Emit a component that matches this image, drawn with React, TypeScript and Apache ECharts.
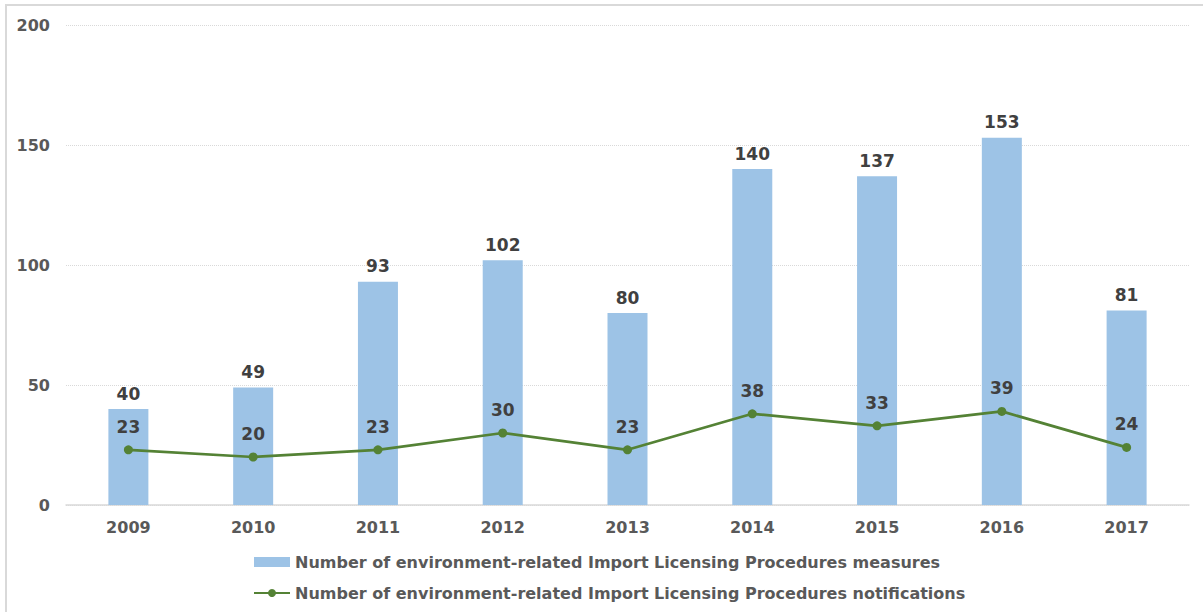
import React, { useEffect, useRef } from "react";
import * as echarts from "echarts";

const categories = ["2009", "2010", "2011", "2012", "2013", "2014", "2015", "2016", "2017"];
const measures = [40, 49, 93, 102, 80, 140, 137, 153, 81];
const notifications = [23, 20, 23, 30, 23, 38, 33, 39, 24];
const measuresName = "Number of environment-related Import Licensing Procedures measures";
const notificationsName = "Number of environment-related Import Licensing Procedures notifications";

const FONT = "'DejaVu Sans', Verdana, sans-serif";

export default function App() {
  const ref = useRef<HTMLDivElement>(null);
  useEffect(() => {
    if (!ref.current) return;
    const chart = echarts.init(ref.current, undefined, { renderer: "svg" });
    chart.setOption({
      animation: false,
      backgroundColor: "#ffffff",
      textStyle: { fontFamily: FONT },
      graphic: [
        {
          type: "rect",
          shape: { x: 6, y: 5, width: 1260, height: 700 },
          style: { fill: "none", stroke: "#D9D9D9", lineWidth: 2 },
          silent: true,
        },
      ],
      grid: { left: 66, right: 14, top: 25, bottom: 107, containLabel: false },
      legend: {
        orient: "vertical",
        left: 248,
        top: 549,
        itemGap: 15,
        itemWidth: 36,
        itemHeight: 10,
        textStyle: { fontFamily: FONT, fontWeight: "bold", fontSize: 16, color: "#595959" },
        data: [
          { name: measuresName, icon: "rect" },
          { name: notificationsName },
        ],
      },
      xAxis: {
        type: "category",
        data: categories,
        axisTick: { show: false },
        axisLine: { lineStyle: { color: "#D9D9D9", width: 1.5 } },
        axisLabel: { fontFamily: FONT, fontWeight: "bold", fontSize: 16, color: "#595959", margin: 14 },
      },
      yAxis: {
        type: "value",
        min: 0,
        max: 200,
        interval: 50,
        axisLine: { show: false },
        axisTick: { show: false },
        axisLabel: { fontFamily: FONT, fontWeight: "bold", fontSize: 16, color: "#595959", margin: 16 },
        splitLine: { lineStyle: { color: "#D9D9D9", type: "dotted", width: 1 } },
      },
      series: [
        {
          name: measuresName,
          type: "bar",
          data: measures,
          barWidth: 40,
          itemStyle: { color: "#9DC3E6" },
          label: {
            show: true,
            position: "top",
            distance: 7,
            fontFamily: FONT,
            fontWeight: "bold",
            fontSize: 17,
            color: "#404040",
          },
        },
        {
          name: notificationsName,
          type: "line",
          data: notifications,
          symbol: "circle",
          symbolSize: 9,
          itemStyle: { color: "#548235" },
          lineStyle: { color: "#548235", width: 2.75 },
          label: {
            show: true,
            position: "top",
            distance: 10,
            fontFamily: FONT,
            fontWeight: "bold",
            fontSize: 17,
            color: "#404040",
          },
        },
      ],
    });
    return () => chart.dispose();
  }, []);
  return (
    <div
      ref={ref}
      style={{ position: "fixed", left: 0, top: 0, width: 1203, height: 612 }}
    />
  );
}
